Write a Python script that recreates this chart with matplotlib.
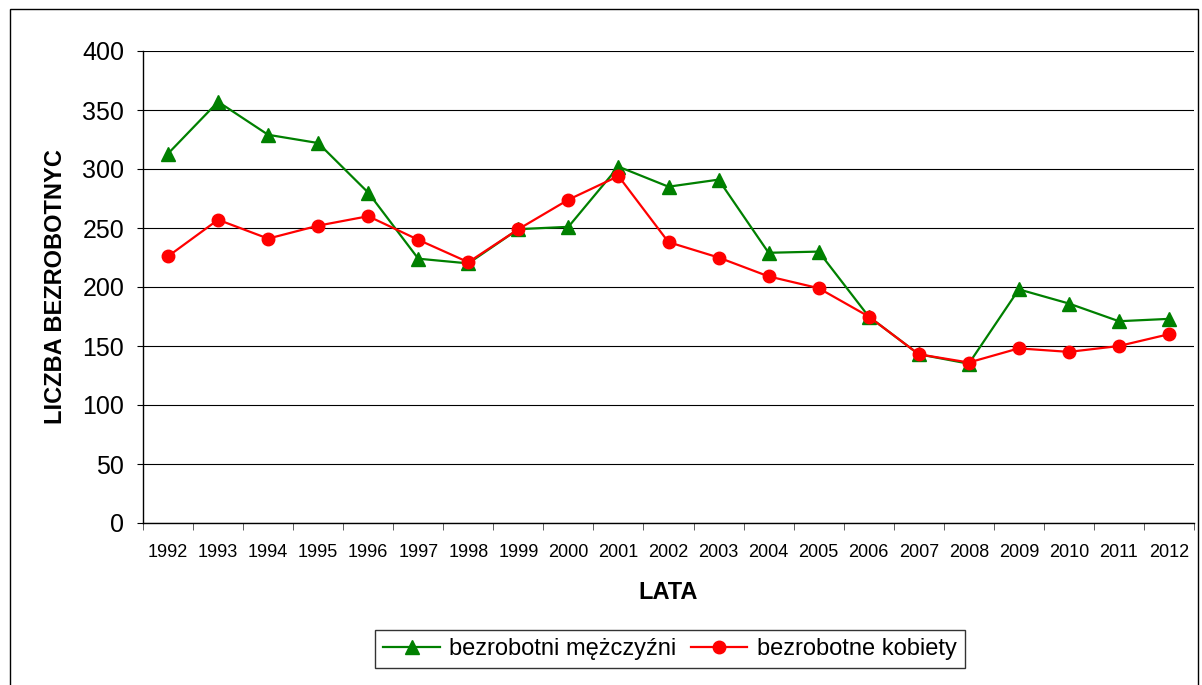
import matplotlib.pyplot as plt
from matplotlib.patches import Rectangle

years = [str(y) for y in range(1992, 2013)]
men = [313, 357, 329, 322, 280, 224, 220, 249, 251, 302, 285, 291,
       229, 230, 175, 143, 135, 198, 186, 171, 173]
women = [226, 257, 241, 252, 260, 240, 221, 249, 274, 294, 238, 225,
         209, 199, 175, 143, 136, 148, 145, 150, 160]

plt.rcParams['font.family'] = ['Liberation Sans', 'DejaVu Sans']

fig = plt.figure(figsize=(12.02, 6.85), dpi=100)
ax = fig.add_axes([143 / 1202, 1 - 523 / 685, 1051 / 1202, 472 / 685])

# outer frame of the chart
fig.patches.append(Rectangle((10 / 1202, -0.05), 1188 / 1202, 1.05 - 9 / 685,
                             transform=fig.transFigure, fill=False,
                             edgecolor='black', linewidth=1.0))

x = list(range(len(years)))
ax.plot(x, men, '-^', color='#008000', linewidth=1.6, markersize=10,
        label='bezrobotni mężczyźni', zorder=3)
ax.plot(x, women, '-o', color='#ff0000', linewidth=1.6, markersize=9,
        label='bezrobotne kobiety', zorder=4)

ax.set_xlim(-0.5, len(years) - 0.5)
ax.set_ylim(0, 400)
ax.set_yticks(range(0, 401, 50))
ax.yaxis.grid(True, color='black', linewidth=0.8)
ax.set_axisbelow(True)

ax.set_xticks(x)
ax.set_xticklabels(years, fontsize=13)
ax.tick_params(axis='x', length=0, pad=15)
ax.set_xticks([i - 0.5 for i in range(len(years) + 1)], minor=True)
ax.tick_params(axis='x', which='minor', length=5, color='#444444')
ax.tick_params(axis='y', labelsize=18, length=4.5, pad=9)

for s in ['top', 'right']:
    ax.spines[s].set_visible(False)
ax.spines['left'].set_linewidth(1.0)
ax.spines['bottom'].set_linewidth(1.0)

ax.set_ylabel('LICZBA BEZROBOTNYC', fontsize=17, fontweight='bold')
ax.yaxis.set_label_coords(-0.072, 0.5)
ax.set_xlabel('LATA', fontsize=17, fontweight='bold')
ax.xaxis.set_label_coords(0.5, -0.122)

leg = ax.legend(loc='center', bbox_to_anchor=(670 / 1202, 1 - 649 / 685),
                bbox_transform=fig.transFigure, ncol=2, fontsize=17,
                frameon=True, fancybox=False, edgecolor='black',
                handlelength=2.4, columnspacing=0.6, handletextpad=0.4,
                borderpad=0.35)
leg.get_frame().set_linewidth(1.0)

fig.savefig('out.png', dpi=100)
